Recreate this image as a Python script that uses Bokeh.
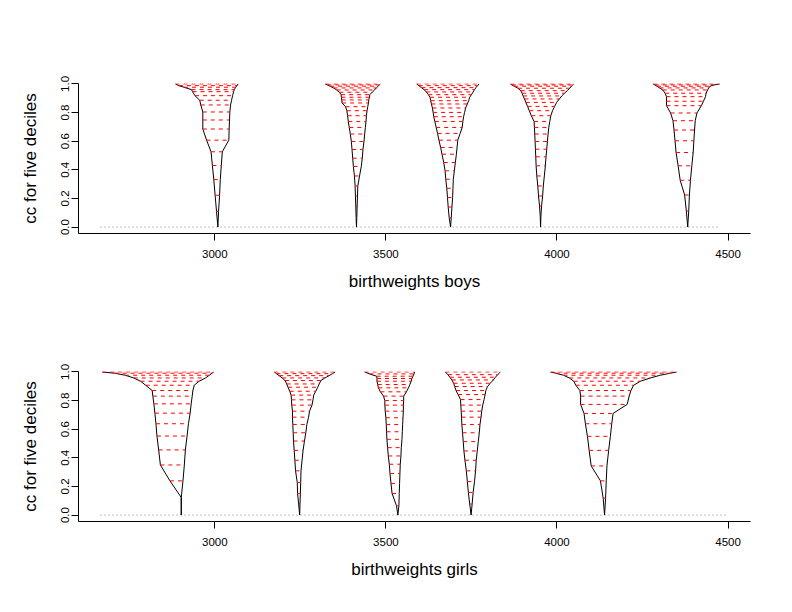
from bokeh.plotting import figure
from bokeh.models import FixedTicker, Range1d
from bokeh.layouts import column
from bokeh.embed import file_html
from bokeh.resources import INLINE

# ---------------- data ----------------
# boys: five deciles, confidence-curve levels and interval ends
b1_cc = [0, .110, .222, .332, .430, .526, .607, .685, .748, .804, .853, .886, .918, .946, .960, .977, .988, 1.0]
b1_lo = [3009, 3005, 3001, 2997, 2993, 2989, 2976, 2965, 2965, 2965, 2959, 2956, 2942, 2935, 2932, 2910, 2895, 2885]
b1_hi = [3009, 3011, 3014, 3016, 3019, 3022, 3041, 3042, 3043, 3044, 3046, 3049, 3052, 3055, 3057, 3061, 3065, 3068]

b2_cc = [0, .065, .147, .217, .287, .357, .423, .481, .542, .598, .650, .696, .738, .778, .813, .841, .867, .888, .907, .925, .942, .958, .972, .984, .993, 1.0]
b2_lo = [3414, 3413, 3412, 3411, 3410, 3408, 3405, 3403, 3401, 3399, 3396, 3393, 3390, 3388, 3386, 3382, 3372, 3371, 3370, 3369, 3364, 3356, 3347, 3337, 3329, 3323]
b2_hi = [3414, 3415, 3416, 3417, 3418, 3423, 3428, 3431, 3433, 3436, 3438, 3440, 3442, 3443, 3445, 3447, 3449, 3450, 3452, 3453, 3460, 3467, 3472, 3477, 3481, 3484]

b3_cc = [0, .065, .140, .206, .271, .334, .393, .451, .509, .556, .607, .654, .696, .738, .771, .801, .832, .860, .883, .907, .925, .944, .960, .974, .988, 1.0]
b3_lo = [3689, 3685, 3682, 3680, 3678, 3675, 3673, 3669, 3664, 3660, 3655, 3651, 3647, 3643, 3640, 3638, 3636, 3633, 3631, 3629, 3624, 3618, 3612, 3604, 3596, 3590]
b3_hi = [3689, 3691, 3693, 3695, 3696, 3697, 3700, 3703, 3706, 3708, 3710, 3717, 3723, 3725, 3727, 3730, 3733, 3738, 3742, 3745, 3750, 3755, 3759, 3763, 3768, 3772]

b4_cc = [0, .077, .147, .217, .287, .357, .428, .491, .544, .598, .650, .696, .738, .778, .813, .843, .871, .895, .916, .935, .953, .970, .984, .993, 1.0]
b4_lo = [3952, 3951, 3949, 3946, 3944, 3941, 3939, 3938, 3937, 3936, 3935, 3934, 3933, 3925, 3919, 3914, 3909, 3905, 3901, 3898, 3894, 3886, 3875, 3868, 3864]
b4_hi = [3952, 3953, 3955, 3958, 3960, 3963, 3966, 3968, 3970, 3972, 3974, 3976, 3979, 3982, 3987, 3993, 3999, 4007, 4014, 4022, 4030, 4037, 4042, 4046, 4049]

b5_cc = [0, .112, .224, .327, .428, .521, .603, .678, .743, .797, .848, .879, .911, .935, .958, .972, .984, .993, 1.0]
b5_lo = [4382, 4378, 4373, 4360, 4354, 4348, 4345, 4342, 4339, 4332, 4320, 4320, 4320, 4316, 4309, 4300, 4292, 4286, 4281]
b5_hi = [4382, 4385, 4387, 4390, 4394, 4398, 4400, 4402, 4404, 4409, 4422, 4428, 4434, 4436, 4440, 4444, 4447, 4459, 4475]

# girls
g1_cc = [0, .123, .239, .350, .455, .552, .638, .712, .777, .831, .870, .907, .935, .958, .977, .991, 1.0]
g1_lo = [2902, 2902, 2869, 2841, 2836, 2831, 2828, 2825, 2822, 2819, 2817, 2798, 2783, 2763, 2738, 2707, 2671]
g1_hi = [2902, 2902, 2907, 2911, 2914, 2919, 2923, 2928, 2931, 2934, 2936, 2940, 2954, 2973, 2984, 2992, 2997]

g2_cc = [0, .077, .151, .227, .309, .383, .452, .517, .575, .633, .684, .726, .768, .805, .838, .865, .893, .916, .940, .958, .974, .988, 1.0]
g2_lo = [3248, 3245, 3242, 3241, 3236, 3234, 3232, 3230, 3229, 3228, 3227, 3227, 3225, 3224, 3223, 3219, 3214, 3210, 3205, 3197, 3188, 3180, 3174]
g2_hi = [3248, 3249, 3250, 3251, 3252, 3255, 3258, 3262, 3266, 3269, 3274, 3277, 3284, 3287, 3289, 3295, 3301, 3305, 3310, 3322, 3334, 3344, 3352]

g3_cc = [0, .065, .151, .220, .290, .355, .413, .471, .529, .582, .633, .680, .726, .768, .800, .831, .861, .889, .912, .935, .954, .970, .986, 1.0]
g3_lo = [3535, 3531, 3518, 3515, 3512, 3510, 3507, 3505, 3503, 3502, 3501, 3500, 3498, 3497, 3497, 3493, 3484, 3478, 3476, 3474, 3474, 3473, 3452, 3438]
g3_hi = [3535, 3538, 3539, 3540, 3541, 3542, 3544, 3545, 3547, 3548, 3549, 3550, 3551, 3551, 3552, 3552, 3560, 3566, 3570, 3574, 3576, 3579, 3582, 3584]

g4_cc = [0, .077, .158, .234, .309, .383, .448, .513, .575, .633, .684, .726, .768, .807, .842, .870, .898, .921, .944, .963, .981, 1.0]
g4_lo = [3749, 3745, 3741, 3738, 3735, 3731, 3728, 3726, 3724, 3722, 3721, 3720, 3719, 3718, 3711, 3705, 3701, 3698, 3693, 3687, 3681, 3674]
g4_hi = [3749, 3752, 3755, 3759, 3762, 3764, 3767, 3770, 3773, 3775, 3778, 3780, 3783, 3787, 3790, 3792, 3797, 3805, 3814, 3820, 3827, 3835]

g5_cc = [0, .118, .239, .343, .452, .550, .638, .710, .773, .831, .870, .907, .935, .958, .977, .991, 1.0]
g5_lo = [4139, 4135, 4127, 4100, 4094, 4089, 4083, 4079, 4069, 4069, 4067, 4055, 4049, 4036, 4019, 3996, 3981]
g5_hi = [4139, 4142, 4144, 4146, 4151, 4156, 4160, 4164, 4205, 4211, 4216, 4224, 4244, 4273, 4302, 4331, 4350]

boys_zero = [2666, 4472]
girls_zero = [2666, 4501]

x_ticks = [3000, 3500, 4000, 4500]
x_tick_labels = ["3000", "3500", "4000", "4500"]
y_ticks = [0.0, 0.2, 0.4, 0.6, 0.8, 1.0]
y_tick_labels = ["0.0", "0.2", "0.4", "0.6", "0.8", "1.0"]

y_title = "cc for five deciles"
boys_title = "birthweights boys"
girls_title = "birthweights girls"

FONT = "Liberation Sans"


def make_panel(funnels, zero, xlabel, top_border, bottom_border):
    p = figure(frame_width=672, frame_height=150,
               x_range=Range1d(2601.7, 4565.5), y_range=Range1d(-0.045, 1.003),
               output_backend="svg", toolbar_location=None,
               min_border_left=78, min_border_right=14,
               min_border_top=top_border, min_border_bottom=bottom_border)
    p.outline_line_color = None
    p.grid.visible = False
    p.background_fill_color = "white"
    p.border_fill_color = "white"

    p.line(zero, [0, 0], line_color="#808080", line_width=1, line_dash="1 3")

    for cc, lo, hi in funnels:
        xs = lo[::-1] + hi[1:]
        ys = cc[::-1] + cc[1:]
        p.line(xs, ys, line_color="black", line_width=1)
        p.multi_line([[l, h] for l, h in zip(lo[1:], hi[1:])],
                     [[c, c] for c in cc[1:]],
                     line_color="red", line_width=1, line_dash="4 4")

    for ax in (p.xaxis[0], p.yaxis[0]):
        ax.axis_line_color = "black"
        ax.axis_line_width = 1
        ax.major_tick_line_color = "black"
        ax.major_tick_out = 7
        ax.major_tick_in = 0
        ax.minor_tick_out = 0
        ax.minor_tick_in = 0
        ax.major_label_text_font = FONT
        ax.major_label_text_font_size = "11.5px"
        ax.major_label_text_color = "black"
        ax.axis_label_text_font = FONT
        ax.axis_label_text_font_size = "17px"
        ax.axis_label_text_font_style = "normal"
        ax.axis_label_text_color = "black"

    p.xaxis.ticker = FixedTicker(ticks=x_ticks)
    p.xaxis.major_label_overrides = dict(zip(x_ticks, x_tick_labels))
    p.xaxis.major_label_standoff = 9
    p.xaxis.axis_label = xlabel
    p.xaxis.axis_label_standoff = 11

    p.yaxis.ticker = FixedTicker(ticks=y_ticks)
    p.yaxis.major_label_overrides = dict(zip(y_ticks, y_tick_labels))
    p.yaxis.major_label_orientation = "vertical"
    p.yaxis.major_label_standoff = 2
    p.yaxis.axis_label = y_title
    p.yaxis.axis_label_standoff = 19
    return p


boys = [(b1_cc, b1_lo, b1_hi), (b2_cc, b2_lo, b2_hi), (b3_cc, b3_lo, b3_hi),
        (b4_cc, b4_lo, b4_hi), (b5_cc, b5_lo, b5_hi)]
girls = [(g1_cc, g1_lo, g1_hi), (g2_cc, g2_lo, g2_hi), (g3_cc, g3_lo, g3_hi),
         (g4_cc, g4_lo, g4_hi), (g5_cc, g5_lo, g5_hi)]

p1 = make_panel(boys, boys_zero, boys_title, 83, 63)
p2 = make_panel(girls, girls_zero, girls_title, 75, 70)

layout = column(p1, p2, spacing=0)
open("out.html", "w").write(file_html(layout, INLINE))
